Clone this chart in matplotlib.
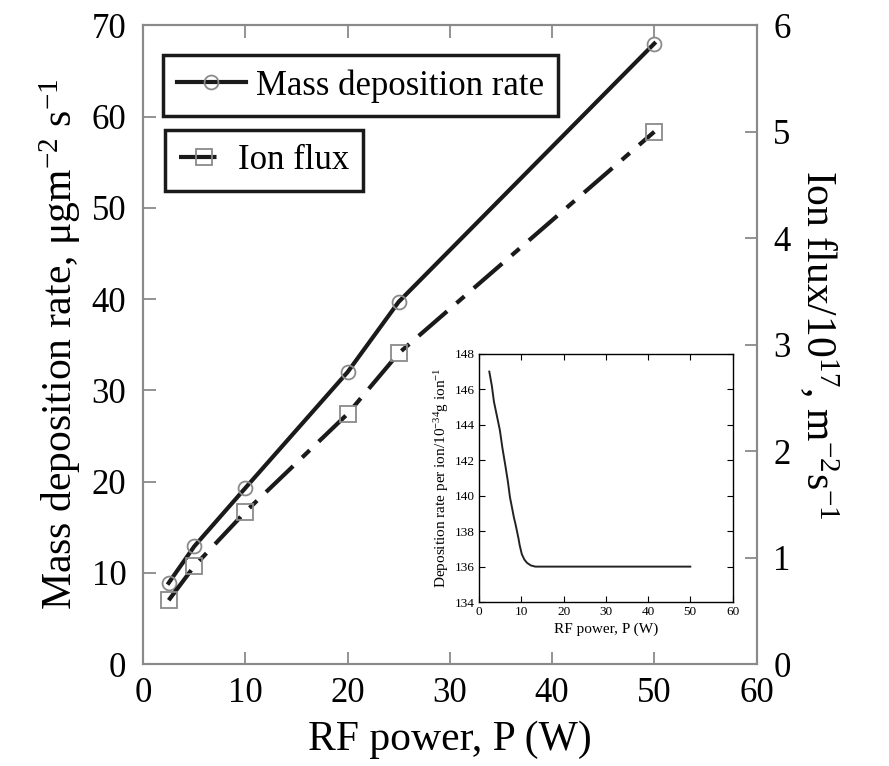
import matplotlib.pyplot as plt
import numpy as np

plt.rcParams['font.family'] = ['Liberation Serif', 'DejaVu Serif']
plt.rcParams['mathtext.fontset'] = 'custom'
plt.rcParams['mathtext.rm'] = 'Liberation Serif'
plt.rcParams['mathtext.it'] = 'Liberation Serif:italic'

# main data
power = [2.5, 5, 10, 20, 25, 50]
mass_rate = [8.9, 12.9, 19.3, 32.0, 39.7, 68.0]
ion_flux = [0.6, 0.92, 1.43, 2.35, 2.92, 5.0]

# inset data (deposition rate per ion)
inset_power = [2.4, 3.0, 3.5, 4.2, 4.9, 5.5, 6.2, 6.8, 7.3, 7.8, 8.2, 8.6, 8.9, 9.3, 9.6, 10.1,
               10.7, 11.3, 12.2, 13.3, 20, 30, 40, 50]
inset_rate = [147.0, 146.2, 145.3, 144.5, 143.7, 142.7, 141.7, 140.8, 139.9, 139.3, 138.8, 138.4,
              138.06, 137.6, 137.2, 136.7, 136.4, 136.22, 136.07, 136.0, 136.0, 136.0, 136.0, 136.0]

grey = '#8a8a8a'

fig = plt.figure(figsize=(8.89, 7.66), dpi=100)
ax = fig.add_axes([0.161, 0.133, 0.69, 0.834])
ax2 = ax.twinx()

l1, = ax.plot(power, mass_rate, '-', color='#1a1a1a', lw=3,
              marker='o', ms=10, mfc='none', mec=grey, mew=1.3,
              label='Mass deposition rate')
l2, = ax2.plot(power, ion_flux, color='#1a1a1a', lw=3, dashes=(9, 3, 2.5, 3),
               marker='s', ms=11.5, mfc='none', mec=grey, mew=1.3,
               label='Ion flux')

ax.set_xlim(0, 60)
ax.set_ylim(0, 70)
ax2.set_ylim(0, 6)
ax.set_xticks(np.arange(0, 61, 10))
ax.set_yticks(np.arange(0, 71, 10))
ax2.set_yticks(np.arange(0, 7, 1))

for a in (ax, ax2):
    for s in a.spines.values():
        s.set_color(grey)
        s.set_linewidth(1.5)
ax.tick_params(direction='in', length=9, width=1.3, color=grey, labelsize=25,
               top=True, pad=12)
ax.tick_params(axis='x', pad=9)
ax2.tick_params(direction='in', length=9, width=1.3, color=grey, labelsize=25, pad=12)

ax.set_xlabel('RF power, P (W)', fontsize=30, labelpad=8)
ax.set_ylabel('Mass deposition rate, \u03bcgm$^{-2}$ s$^{-1}$', fontsize=30, labelpad=6)
ax2.set_ylabel('Ion flux/10$^{17}$, m$^{-2}$s$^{-1}$', fontsize=30, rotation=-90, labelpad=36)

leg1 = ax.legend(handles=[l1], loc='upper left', bbox_to_anchor=(0.183, 0.928),
                 bbox_transform=fig.transFigure, fontsize=25, fancybox=False,
                 framealpha=1, edgecolor='#1a1a1a', handlelength=2.0,
                 borderpad=0.4, handletextpad=0.3, borderaxespad=0)
leg1.get_frame().set_linewidth(2.5)
leg2 = ax2.legend(handles=[l2], loc='upper left', bbox_to_anchor=(0.186, 0.83),
                  bbox_transform=fig.transFigure, fontsize=25, fancybox=False,
                  framealpha=1, edgecolor='#1a1a1a', handlelength=1.4,
                  borderpad=0.4, handletextpad=0.3, borderaxespad=0)
leg2.get_frame().set_linewidth(2.5)

# inset
ins = fig.add_axes([0.539, 0.214, 0.285, 0.324])
ins.plot(inset_power, inset_rate, color='#222222', lw=1.4)
ins.set_xlim(0, 60)
ins.set_ylim(134, 148)
ins.set_xticks(np.arange(0, 61, 10))
ins.set_yticks(np.arange(134, 149, 2))
ins.tick_params(direction='in', length=4, width=0.8, labelsize=9.5,
                top=True, right=True, pad=3)
for s in ins.spines.values():
    s.set_linewidth(1.0)
ins.set_xlabel('RF power, P (W)', fontsize=11, labelpad=3)
ins.set_ylabel('Deposition rate per ion/10$^{-34}$g ion$^{-1}$', fontsize=11, labelpad=3)

fig.savefig('out.png', dpi=100)
